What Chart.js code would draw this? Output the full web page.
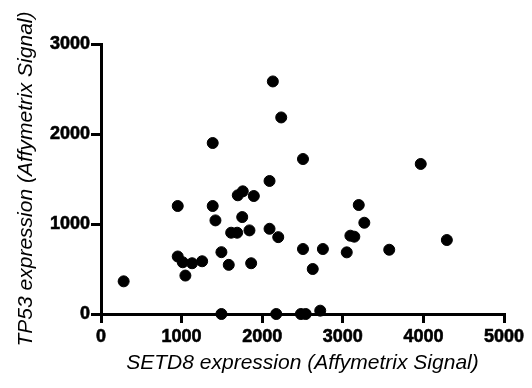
<!DOCTYPE html>
<html>
<head>
<meta charset="utf-8">
<script src="https://cdn.jsdelivr.net/npm/chart.js@4"></script>
<style>
  html, body { margin: 0; padding: 0; background: #fff; }
  #wrap { width: 532px; height: 388px; }
</style>
</head>
<body>
<div id="wrap"><canvas id="chart" width="532" height="388"></canvas></div>
<script>
// ─── Data ─────────────────────────────────────────────────
const setd8 = [281, 952, 952, 1014, 1047, 1130, 1255, 1386, 1420, 1494, 1494, 1585, 1615, 1689,
  1697, 1759, 1752, 1842, 1863, 1896, 2091, 2091, 2174, 2199, 2132, 2236, 1386, 2506, 3967, 3198,
  3267, 3094, 3143, 2506, 2753, 3049, 3576, 4291, 2627, 2480, 2540, 2720];
const tp53 = [363, 1200, 639, 575, 427, 564, 586, 1200, 1040, 687, 0, 546, 903, 903,
  1319, 1363, 1077, 929, 564, 1311, 1478, 947, 0, 854, 2584, 2184, 1900, 1722, 1667, 1211,
  1014, 870, 859, 722, 722, 685, 714, 822, 500, 0, 0, 37];
const xTicks = [0, 1000, 2000, 3000, 4000, 5000];
const yTicks = [0, 1000, 2000, 3000];

const points = setd8.map((x, i) => ({ x, y: tp53[i] }));

const FONT = 'Arial, "Liberation Sans", sans-serif';
const tickFont = () => ({ family: FONT, size: 18, weight: 'bold' });
const titleFont = () => ({ family: FONT, size: 21, style: 'italic' });

new Chart(document.getElementById('chart'), {
  type: 'scatter',
  data: {
    datasets: [{
      data: points,
      backgroundColor: '#000',
      borderColor: '#000',
      pointRadius: 5.5,
      pointHoverRadius: 5.5,
      clip: false,
    }]
  },
  options: {
    responsive: false,
    animation: false,
    layout: { padding: { left: 0, top: 44, right: 28, bottom: 0 } },
    plugins: { legend: { display: false }, tooltip: { enabled: false } },
    scales: {
      x: {
        type: 'linear', min: 0, max: 5000,
        afterBuildTicks: s => { s.ticks = xTicks.map(v => ({ value: v })); },
        afterFit: s => { s.height = 74; },
        border: { display: true, color: '#000', width: 3 },
        grid: { drawOnChartArea: false, color: '#000', lineWidth: 3, tickLength: 9 },
        ticks: {
          color: '#000', padding: 3, maxRotation: 0, callback: v => String(v),
          textStrokeColor: '#000', textStrokeWidth: 0.6, font: tickFont()
        },
        title: {
          display: true, text: 'SETD8 expression (Affymetrix Signal)', color: '#000',
          padding: { top: 0, bottom: 12 },
          font: titleFont()
        }
      },
      y: {
        type: 'linear', min: 0, max: 3000,
        afterBuildTicks: s => { s.ticks = yTicks.map(v => ({ value: v })); },
        afterFit: s => { s.width = 101; },
        border: { display: true, color: '#000', width: 3 },
        grid: { drawOnChartArea: false, color: '#000', lineWidth: 3, tickLength: 10 },
        ticks: {
          color: '#000', padding: 1, callback: v => String(v),
          textStrokeColor: '#000', textStrokeWidth: 0.6, font: tickFont()
        },
        title: {
          display: true, text: 'TP53 expression (Affymetrix Signal)', color: '#000',
          padding: { top: 14, bottom: 0 },
          font: titleFont()
        }
      }
    }
  }
});
</script>
</body>
</html>
